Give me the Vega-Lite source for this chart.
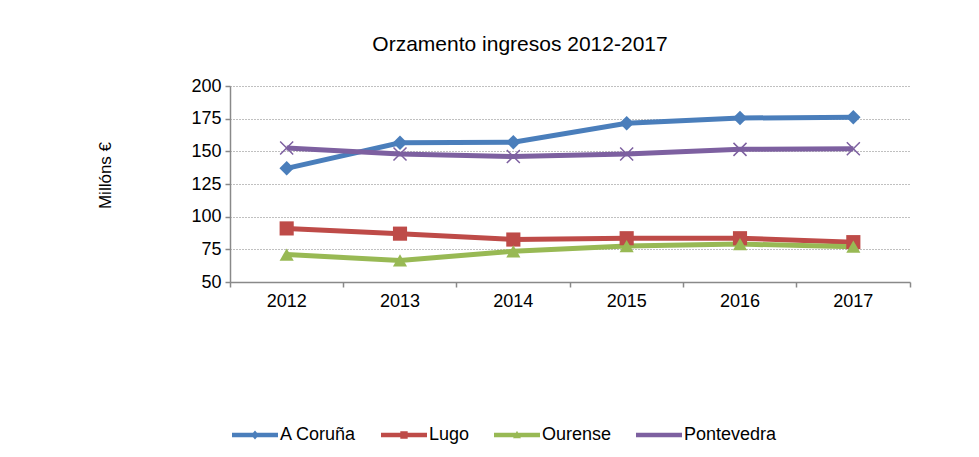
{
  "$schema": "https://vega.github.io/schema/vega-lite/v6.json",
  "width": 680,
  "height": 196,
  "autosize": {"type": "none"},
  "padding": {"left": 230, "top": 86, "right": 69, "bottom": 175},
  "background": "white",
  "config": {
    "font": "Liberation Sans",
    "view": {"stroke": null}
  },
  "title": {
    "text": "Orzamento ingresos 2012-2017",
    "fontSize": 21,
    "fontWeight": "normal",
    "font": "Liberation Sans",
    "color": "#000000",
    "anchor": "middle",
    "dx": -50,
    "offset": 22
  },
  "data": {
    "values": [
      {"ano": "2012", "provincia": "A Coruña", "valor": 137},
      {"ano": "2013", "provincia": "A Coruña", "valor": 156.5},
      {"ano": "2014", "provincia": "A Coruña", "valor": 157},
      {"ano": "2015", "provincia": "A Coruña", "valor": 171.5},
      {"ano": "2016", "provincia": "A Coruña", "valor": 175.5},
      {"ano": "2017", "provincia": "A Coruña", "valor": 176},
      {"ano": "2012", "provincia": "Lugo", "valor": 91},
      {"ano": "2013", "provincia": "Lugo", "valor": 87},
      {"ano": "2014", "provincia": "Lugo", "valor": 82.5},
      {"ano": "2015", "provincia": "Lugo", "valor": 83.5},
      {"ano": "2016", "provincia": "Lugo", "valor": 83.5},
      {"ano": "2017", "provincia": "Lugo", "valor": 80.5},
      {"ano": "2012", "provincia": "Ourense", "valor": 71},
      {"ano": "2013", "provincia": "Ourense", "valor": 66.5},
      {"ano": "2014", "provincia": "Ourense", "valor": 73.5},
      {"ano": "2015", "provincia": "Ourense", "valor": 77.5},
      {"ano": "2016", "provincia": "Ourense", "valor": 79},
      {"ano": "2017", "provincia": "Ourense", "valor": 77},
      {"ano": "2012", "provincia": "Pontevedra", "valor": 152.5},
      {"ano": "2013", "provincia": "Pontevedra", "valor": 148},
      {"ano": "2014", "provincia": "Pontevedra", "valor": 146},
      {"ano": "2015", "provincia": "Pontevedra", "valor": 148},
      {"ano": "2016", "provincia": "Pontevedra", "valor": 151.5},
      {"ano": "2017", "provincia": "Pontevedra", "valor": 152}
    ]
  },
  "encoding": {
    "x": {
      "field": "ano",
      "type": "ordinal",
      "bandPosition": 0.5,
      "scale": {"type": "band", "paddingInner": 0, "paddingOuter": 0},
      "axis": {
        "title": null,
        "labelAngle": 0,
        "labelFontSize": 18,
        "labelColor": "#000000",
        "labelPadding": 5,
        "domainColor": "#898989",
        "domainWidth": 1.5,
        "tickColor": "#898989",
        "tickWidth": 1.5,
        "tickSize": 5,
        "bandPosition": 1,
        "tickExtra": true,
        "grid": false
      }
    },
    "y": {
      "field": "valor",
      "type": "quantitative",
      "scale": {"domain": [50, 200], "nice": false, "zero": false},
      "axis": {
        "values": [50, 75, 100, 125, 150, 175, 200],
        "title": "Millóns €",
        "titleFontSize": 17,
        "titleFontWeight": "normal",
        "titleColor": "#000000",
        "titlePadding": 76,
        "titleY": 89,
        "labelFontSize": 18,
        "labelColor": "#000000",
        "labelPadding": 4,
        "domainColor": "#898989",
        "domainWidth": 1.5,
        "tickColor": "#898989",
        "tickWidth": 1.5,
        "tickSize": 5,
        "grid": true,
        "gridColor": "#808080",
        "gridDash": [1, 2],
        "gridWidth": 1
      }
    },
    "color": {
      "field": "provincia",
      "type": "nominal",
      "scale": {
        "domain": ["A Coruña", "Lugo", "Ourense", "Pontevedra"],
        "range": ["#4A7EBB", "#BE4B48", "#98B954", "#7D60A0"]
      },
      "legend": {
        "title": null,
        "orient": "none",
        "direction": "horizontal",
        "legendX": 2,
        "legendY": 326,
        "symbolType": "circle",
        "symbolSize": 2116,
        "symbolStrokeWidth": 0,
        "labelFontSize": 18,
        "labelColor": "#000000",
        "labelOffset": 2,
        "columnPadding": 24,
        "encode": {
          "symbols": {
            "update": {
              "shape": {"signal": "datum.value === 'A Coruña' ? 'M-1,-0.1H1V0.1H-1Z M-0.17,0L0,-0.2L0.17,0L0,0.2Z' : datum.value === 'Lugo' ? 'M-1,-0.1H1V0.1H-1Z M-0.16,-0.16H0.16V0.16H-0.16Z' : datum.value === 'Ourense' ? 'M-1,-0.1H1V0.1H-1Z M-0.17,0.14L0,-0.18L0.17,0.14Z' : 'M-1,-0.1H1V0.1H-1Z'"},
              "fill": {"scale": "color", "field": "value"},
              "fillOpacity": {"value": 1},
              "stroke": {"value": "transparent"},
              "strokeWidth": {"value": 0}
            }
          }
        }
      }
    }
  },
  "layer": [
    {
      "mark": {"type": "line", "strokeWidth": 5},
      "encoding": {}
    },
    {
      "transform": [{"filter": "datum.provincia === 'A Coruña'"}],
      "mark": {"type": "point", "filled": true, "opacity": 1, "size": 210, "shape": "diamond"},
      "encoding": {}
    },
    {
      "transform": [{"filter": "datum.provincia === 'Lugo'"}],
      "mark": {"type": "point", "filled": true, "opacity": 1, "size": 200, "shape": "square"},
      "encoding": {}
    },
    {
      "transform": [{"filter": "datum.provincia === 'Ourense'"}],
      "mark": {"type": "point", "filled": true, "opacity": 1, "size": 200, "shape": "triangle-up"},
      "encoding": {}
    },
    {
      "transform": [{"filter": "datum.provincia === 'Pontevedra'"}],
      "mark": {
        "type": "point",
        "filled": false,
        "opacity": 1,
        "shape": "M-1,-1L1,1M-1,1L1,-1",
        "size": 170,
        "strokeWidth": 1.5
      },
      "encoding": {}
    }
  ]
}
